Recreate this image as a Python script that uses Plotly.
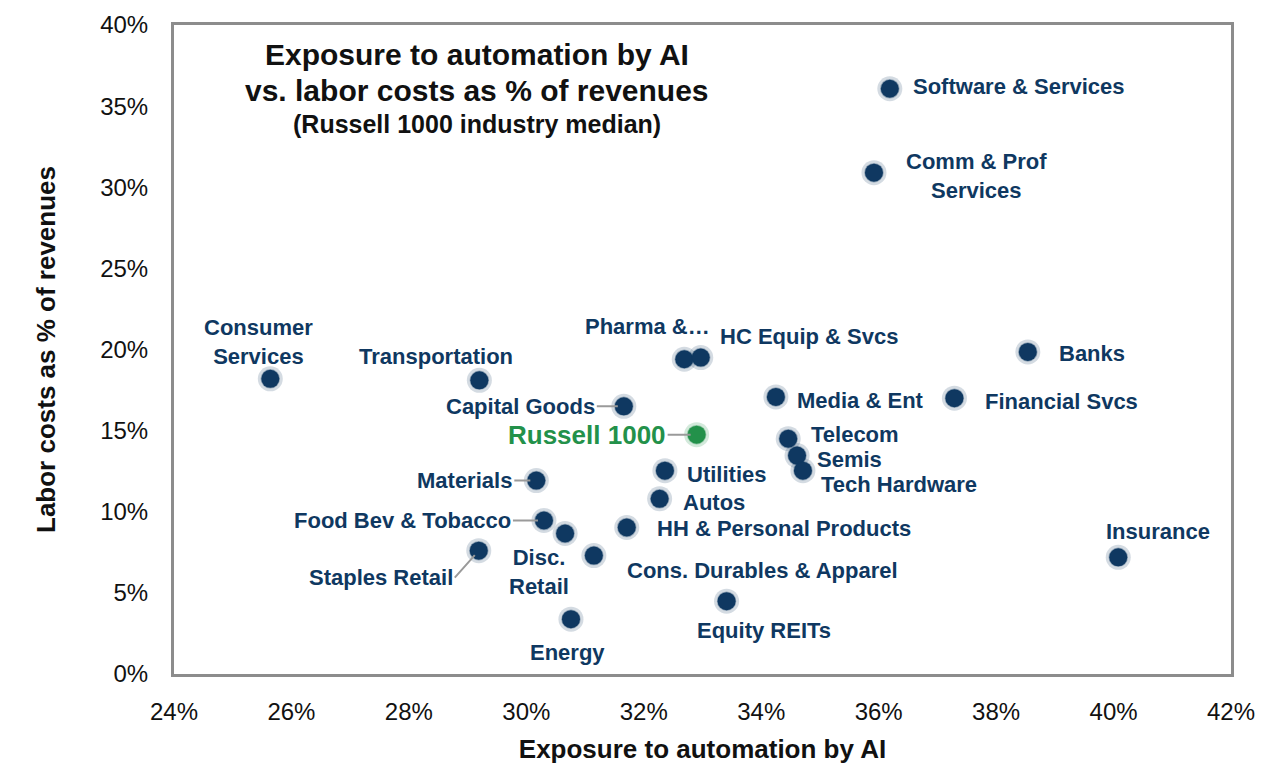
import plotly.graph_objects as go

# industry medians, in %
industries = [
    "Software & Services", "Comm & Prof<br>Services", "Consumer<br>Services",
    "Transportation", "Pharma &…", "HC Equip & Svcs", "Banks", "Media & Ent",
    "Financial Svcs", "Capital Goods", "Telecom", "Semis", "Tech Hardware",
    "Utilities", "Materials", "Autos", "Food Bev & Tobacco", "Disc.<br>Retail",
    "HH & Personal Products", "Staples Retail", "Cons. Durables & Apparel",
    "Insurance", "Equity REITs", "Energy",
]
ai_exposure = [
    36.19, 35.92, 25.64, 29.20, 32.69, 32.97, 38.54, 34.25, 37.29, 31.66,
    34.46, 34.61, 34.71, 32.36, 30.17, 32.27, 30.30, 30.66, 31.71, 29.19,
    31.15, 40.08, 33.41, 30.76,
]
labor_cost = [
    36.07, 30.90, 18.19, 18.10, 19.40, 19.50, 19.85, 17.08, 17.00, 16.50,
    14.50, 13.46, 12.53, 12.53, 11.92, 10.80, 9.46, 8.66, 9.03, 7.60,
    7.30, 7.19, 4.49, 3.38,
]

index_name = "Russell 1000"
index_x = [32.90]
index_y = [14.75]

x_ticks = list(range(24, 43, 2))
y_ticks = list(range(0, 41, 5))

NAVY = "#0f3861"
GREEN = "#23914a"
FONT = "Liberation Sans, Arial, sans-serif"

# label placement: (xanchor, xshift, yshift) or ("arrow", ax, ay)
placement = {
    "Software & Services": ("left", 21, 2),
    "Comm & Prof<br>Services": ("left", 30, -3),
    "Consumer<br>Services": ("center", -12, 37),
    "Transportation": ("center", -43, 24),
    "Pharma &…": ("right", 28, 33),
    "HC Equip & Svcs": ("left", 17, 21),
    "Banks": ("left", 29, -2),
    "Media & Ent": ("left", 19, -4),
    "Financial Svcs": ("left", 29, -3),
    "Capital Goods": ("arrow", -27, 0),
    "Telecom": ("left", 21, 4),
    "Semis": ("left", 18, -4),
    "Tech Hardware": ("left", 16, -14),
    "Utilities": ("left", 20, -4),
    "Materials": ("arrow", -22, 0),
    "Autos": ("left", 21, -4),
    "Food Bev & Tobacco": ("arrow", -31, 0),
    "Disc.<br>Retail": ("center", -26, -39),
    "HH & Personal Products": ("left", 28, -1),
    "Staples Retail": ("arrow", -24, 27),
    "Cons. Durables & Apparel": ("left", 31, -15),
    "Insurance": ("center", 40, 26),
    "Equity REITs": ("center", 37, -29),
    "Energy": ("center", -3, -33),
}

fig = go.Figure()

# soft halo behind the dots
fig.add_trace(go.Scatter(
    x=ai_exposure, y=labor_cost, mode="markers", hoverinfo="skip",
    marker=dict(size=25, color="rgba(15,56,97,0.18)", line=dict(width=0)),
))
fig.add_trace(go.Scatter(
    x=ai_exposure, y=labor_cost, mode="markers", text=industries,
    marker=dict(size=18, color=NAVY, line=dict(width=1.5, color="rgba(15,56,97,0.35)")),
))
fig.add_trace(go.Scatter(
    x=index_x, y=index_y, mode="markers", hoverinfo="skip",
    marker=dict(size=25, color="rgba(35,145,74,0.2)", line=dict(width=0)),
))
fig.add_trace(go.Scatter(
    x=index_x, y=index_y, mode="markers", text=[index_name],
    marker=dict(size=18, color=GREEN, line=dict(width=1.5, color="rgba(35,145,74,0.4)")),
))

annotations = []
for name, xv, yv in zip(industries, ai_exposure, labor_cost):
    kind, a, b = placement[name]
    base = dict(x=xv, y=yv, text="<b>" + name + "</b>",
                font=dict(family=FONT, size=22, color=NAVY))
    if kind == "arrow":
        annotations.append(dict(base, showarrow=True, ax=a, ay=b, xanchor="right",
                                arrowhead=0, arrowwidth=2, arrowcolor="#9a9a9a",
                                standoff=6))
    else:
        annotations.append(dict(base, showarrow=False, xanchor=kind, align="center",
                                xshift=a, yshift=b))

annotations.append(dict(
    x=index_x[0], y=index_y[0], text="<b>" + index_name + "</b>", showarrow=True,
    ax=-29, ay=0, xanchor="right", arrowhead=0, arrowwidth=2, arrowcolor="#9a9a9a",
    standoff=6, font=dict(family=FONT, size=26, color=GREEN),
))

# title inside the plot frame, one annotation per line for tight spacing
title_lines = [
    ("Exposure to automation by AI", 30, 0.954),
    ("vs. labor costs as % of revenues", 30, 0.899),
    ("(Russell 1000 industry median)", 25, 0.848),
]
for txt, size, ypos in title_lines:
    annotations.append(dict(
        xref="paper", yref="paper", x=0.2865, y=ypos, showarrow=False,
        xanchor="center", yanchor="middle", text="<b>" + txt + "</b>",
        font=dict(family=FONT, size=size, color="#111111"),
    ))

fig.update_layout(
    width=1280, height=779,
    margin=dict(l=166, r=57, t=17, b=113),
    paper_bgcolor="white", plot_bgcolor="white",
    showlegend=False,
    annotations=annotations,
    font=dict(family=FONT, color="#111111"),
)
fig.update_xaxes(
    range=[24, 42], tickvals=x_ticks, ticktext=[f"{v}%" for v in x_ticks],
    showgrid=False, zeroline=False, automargin=False,
    showline=True, mirror=True, linecolor="#8c8c8c", linewidth=3,
    ticks="", ticklabelstandoff=14, tickfont=dict(size=24, color="#111111"),
    title=dict(text="<b>Exposure to automation by AI</b>", standoff=17,
               font=dict(size=26, color="#111111")),
)
fig.update_yaxes(
    range=[0, 40], tickvals=y_ticks, ticktext=[f"{v}%" for v in y_ticks],
    showgrid=False, zeroline=False, automargin=False,
    showline=True, mirror=True, linecolor="#8c8c8c", linewidth=3,
    ticks="", ticklabelstandoff=18, tickfont=dict(size=24, color="#111111"),
    title=dict(text="<b>Labor costs as % of revenues</b>", standoff=38,
               font=dict(size=26, color="#111111")),
)

fig.write_html("out.html")
